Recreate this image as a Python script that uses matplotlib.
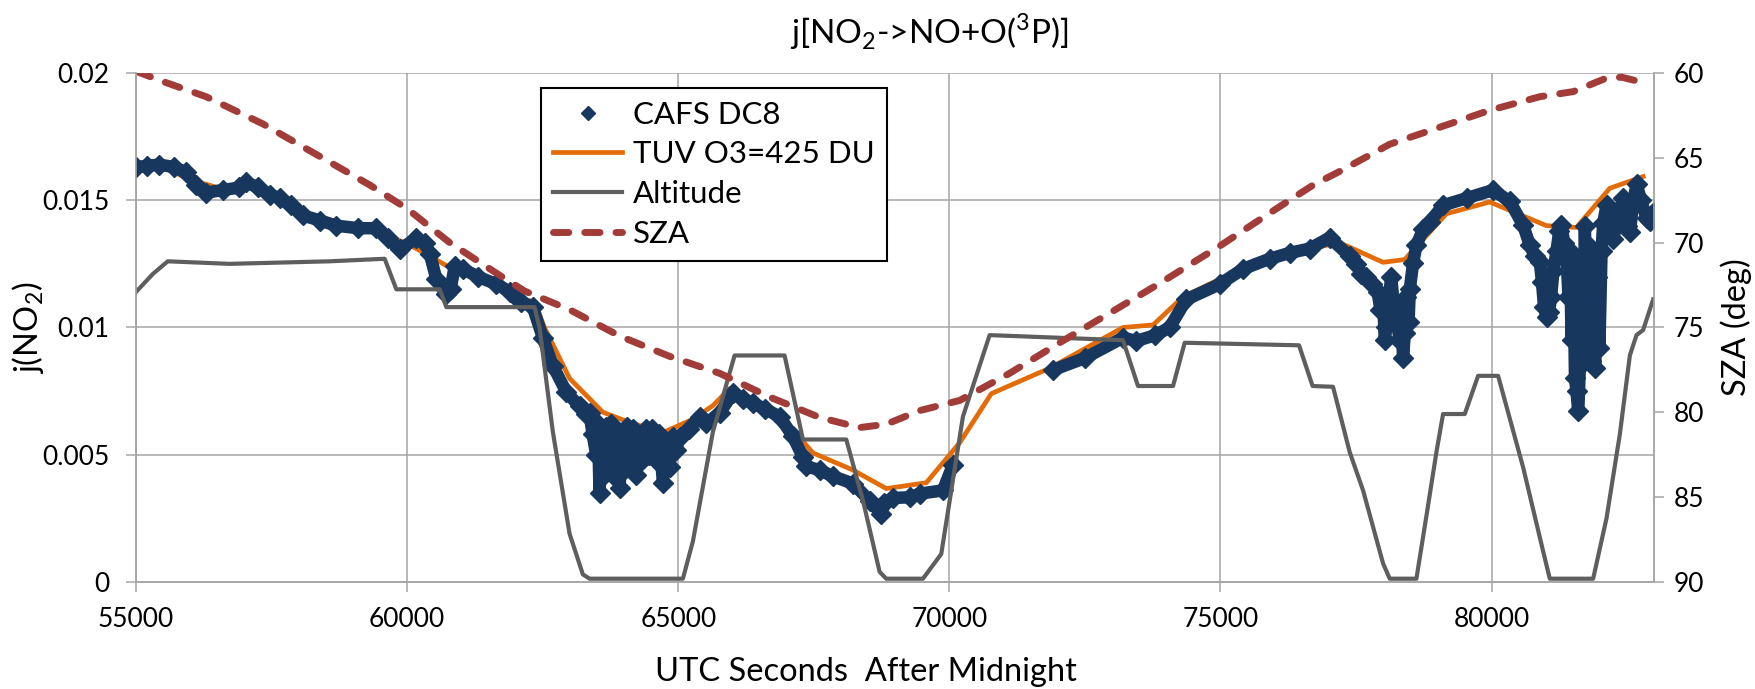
import numpy as np
import matplotlib
matplotlib.use('Agg')
import matplotlib.pyplot as plt
from matplotlib.lines import Line2D

plt.rcParams['font.family'] = ['Lato', 'DejaVu Sans']

# CAFS DC8 j(NO2) (1/s); nan = data gap
cafs_t = [55000, 55200, 55430, 55700, 55923, 56100, 56292, 56600, 56907, 57030,
          57250, 57461, 57646, 57850, 58077, 58400, 58692, 59100, 59431, 59650,
          59862, 60170, 60330, 60416, 60539, 60723, 60800, 60877, 61031, 61300,
          61646, 61900, 62100, 62318, 62502, 62687, 62933,
          63179, 63300, 63364, 63420, 63487, 63520, 63548, 63590, 63630, 63671,
          63720, 63760, 63794, 63850, 63917, 63960, 64000, 64050, 64102, 64163,
          64220, 64286, 64340, 64409, 64460, 64520, 64594, 64650, 64717, 64780,
          64840, 64900, 64960, 65024, 65200, 65393, 65516,
          65762, 66008, 66200, 66377, 66600, 66869, 67115, 67300, 67361, 67607,
          67853, 68222, 68530, 68745, 68800, 68960, 69267, 69452, 69882, 70066,
          70500,
          71912, 72500, 73203, 73449, 73800, 74064, 74372, 74987, 75417, 75909,
          76278, 76647, 77016, 77385, 77500, 77600, 77692, 77800, 77900, 77950,
          78000, 78031, 78060, 78100, 78150, 78200, 78247, 78300, 78340, 78370,
          78400, 78430, 78470, 78493, 78553, 78616, 78738, 78862, 79108, 79539,
          80030, 80338, 80584, 80707, 80800, 80892, 80930, 80970, 81015, 81060,
          81100, 81140, 81199, 81250, 81291, 81340, 81384, 81420, 81450, 81476,
          81510, 81540, 81568, 81600, 81630, 81660, 81700, 81722, 81760, 81800,
          81840, 81876, 81910, 81950, 81990, 82030, 82060, 82122, 82180, 82246,
          82330, 82429, 82500, 82552, 82620, 82675, 82760, 82860, 82930, 83000]
cafs_j = [0.0163, 0.01635, 0.0164, 0.0163, 0.0161, 0.0156, 0.0153, 0.0154, 0.0155, 0.0157,
          0.0155, 0.0152, 0.0151, 0.0148, 0.0144, 0.0142, 0.0140, 0.0139, 0.0139, 0.0135,
          0.01307, 0.0135, 0.0133, 0.0129, 0.0119, 0.0113, 0.0115, 0.0124, 0.0123, 0.0120,
          0.0117, 0.0114, 0.0110, 0.0108, 0.0096, 0.0085, 0.00747,
          0.0069, 0.0066, 0.00663, 0.0058, 0.0050, 0.0062, 0.0035, 0.0060, 0.0042, 0.0061,
          0.0050, 0.0062, 0.0042, 0.0058, 0.0037, 0.0055, 0.0044, 0.0061, 0.0047, 0.0060,
          0.0042, 0.0056, 0.0048, 0.0060, 0.0050, 0.0060, 0.0048, 0.0058, 0.0039, 0.0055,
          0.0045, 0.0057, 0.0052, 0.0057, 0.0060, 0.0065, 0.00624,
          0.00663, 0.00742, 0.0072, 0.00702, 0.0068, 0.0065, 0.00572, 0.0049, 0.00454, 0.0044,
          0.00415, 0.00387, 0.0032, 0.00267, 0.0031, 0.0033, 0.00333, 0.00347, 0.0036, 0.0046,
          np.nan,
          0.00833, 0.0088, 0.0096, 0.00947, 0.0097, 0.0100, 0.0111, 0.0117, 0.0123, 0.0127,
          0.01293, 0.0131, 0.01353, 0.0128, 0.0125, 0.0121, 0.0120, 0.0117, 0.0114, 0.0107,
          0.0112, 0.0095, 0.0100, 0.0110, 0.0120, 0.0108, 0.0106, 0.0095, 0.0102, 0.0088,
          0.0098, 0.0112, 0.0102, 0.0115, 0.01253, 0.01323, 0.01387, 0.01415, 0.0148, 0.01508,
          0.0154, 0.01495, 0.01402, 0.01323, 0.0128, 0.01256, 0.0118, 0.0108, 0.0104, 0.0106,
          0.0112, 0.0122, 0.0130, 0.0138, 0.01402, 0.0133, 0.0128, 0.0112, 0.0130, 0.0095,
          0.0125, 0.0080, 0.0075, 0.0067, 0.0085, 0.0128, 0.0090, 0.0140, 0.0095, 0.0132,
          0.0087, 0.0125, 0.0084, 0.0120, 0.0092, 0.0130, 0.0141, 0.0148, 0.0140, 0.01349,
          0.0143, 0.01508, 0.0140, 0.01376, 0.0150, 0.01562, 0.0150, 0.01429, 0.0142, 0.01455]

# TUV model, O3 = 425 DU
tuv_t = [55000, 55500, 56000, 56500, 57000, 57500, 58000, 58500, 59000, 59500,
         60000, 60500, 61000, 61500, 62000, 62350, 62533, 62995, 63610, 64102,
         64717, 65270, 65639, 65947, 66377, 67115, 67484, 68222, 68837, 69575,
         70190, 70774, 71850, 73203, 73757, 74310, 74987, 75500, 76000, 76650,
         77200, 78000, 78400, 79169, 79968, 81014, 81567, 82182, 82797]
tuv_j = [0.0164, 0.0163, 0.0158, 0.0155, 0.0156, 0.0152, 0.0146, 0.0141, 0.0139, 0.0137,
         0.0133, 0.0127, 0.0121, 0.0118, 0.0112, 0.0110, 0.0100, 0.0080, 0.00667, 0.00627,
         0.00587, 0.0064, 0.00693, 0.0076, 0.00702, 0.00598, 0.00507, 0.0044, 0.00367, 0.0039,
         0.00547, 0.0074, 0.0084, 0.0100, 0.0101, 0.0112, 0.0119, 0.0124, 0.0128, 0.0131,
         0.01333, 0.01256, 0.01267, 0.01447, 0.01493, 0.0140, 0.01393, 0.01547, 0.01593]

# aircraft altitude (km)
alt_t = [55000, 55308, 55584, 56723, 58569, 59585, 59800, 60600, 60723, 62349,
         62441, 62687, 62995, 63240, 63364, 65086, 65270, 65639, 66039, 66961,
         67300, 68099, 68407, 68714, 68837, 69513, 69851, 70251, 70743, 73203,
         73480, 74126, 74341, 76450, 76700, 77077, 77385, 77631, 78000, 78123,
         78615, 78800, 78984, 79107, 79507, 79753, 80122, 80584, 80953, 81075,
         81875, 82121, 82367, 82552, 82674, 82797, 82981]
alt_km = [11.4, 12.1, 12.6, 12.5, 12.6, 12.7, 11.5, 11.5, 10.8, 10.8,
          10.0, 5.9, 1.9, 0.3, 0.13, 0.13, 1.6, 5.9, 8.9, 8.9,
          5.6, 5.6, 3.2, 0.4, 0.13, 0.13, 1.1, 6.5, 9.7, 9.5,
          7.7, 7.7, 9.4, 9.3, 7.7, 7.67, 5.1, 3.6, 0.73, 0.13,
          0.13, 2.6, 5.1, 6.6, 6.6, 8.1, 8.1, 4.5, 1.2, 0.13,
          0.13, 2.5, 5.8, 8.9, 9.7, 9.9, 11.1]

# solar zenith angle (deg)
sza_t = [55000, 55492, 56292, 57338, 58323, 59308, 60000, 60785, 61646, 62164,
         62995, 63917, 64840, 65762, 66685, 67607, 68345, 68837, 69452, 70190,
         71112, 72035, 72957, 73880, 74987, 76032, 76713, 77200, 78123, 79045,
         79968, 80891, 81506, 82121, 82400, 82797]
sza_deg = [59.9, 60.5, 61.4, 63.0, 64.8, 66.6, 68.0, 70.0, 71.8, 72.85,
           73.95, 75.5, 76.7, 77.7, 79.1, 80.3, 80.9, 80.7, 79.9, 79.3,
           77.7, 75.9, 74.15, 72.4, 70.2, 68.0, 66.6, 65.8, 64.2, 63.2,
           62.2, 61.4, 61.1, 60.3, 60.25, 60.56]

x_ticks = [55000, 60000, 65000, 70000, 75000, 80000]
x_labels = ['55000', '60000', '65000', '70000', '75000', '80000']
j_ticks = [0, 0.005, 0.01, 0.015, 0.02]
j_labels = ['0', '0.005', '0.01', '0.015', '0.02']
sza_ticks = [60, 65, 70, 75, 80, 85, 90]
sza_labels = ['60', '65', '70', '75', '80', '85', '90']

navy = '#17375E'
orange = '#E36C09'
grey = '#5E5E5E'
red = '#A13C38'
gridc = '#A6A6A6'

fig = plt.figure(figsize=(17.56, 6.89), dpi=100)
ax = fig.add_axes([0.0775, 0.1553, 0.8645, 0.7388])

ax.plot(tuv_t, tuv_j, color=orange, lw=3.4, zorder=2)
ax.plot(cafs_t, cafs_j, color=navy, lw=9, marker='D', ms=10,
        solid_joinstyle='round', solid_capstyle='round', zorder=3)

ax.set_xlim(55000, 83000)
ax.set_ylim(0, 0.02)
ax.set_xticks(x_ticks, x_labels)
ax.set_yticks(j_ticks, j_labels)
ax.grid(True, color=gridc, lw=1.1)
ax.set_axisbelow(True)
ax.tick_params(axis='x', length=7, width=1.1, color=gridc, labelsize=19, pad=11)
ax.tick_params(axis='y', length=7, width=1.1, color=gridc, labelsize=19, pad=12)
for s in ['left', 'bottom', 'right']:
    ax.spines[s].set_color(gridc)
    ax.spines[s].set_linewidth(1.1)
ax.spines['top'].set_visible(False)

# altitude on its own hidden scale
ax_alt = ax.twinx()
ax_alt.plot(alt_t, alt_km, color=grey, lw=3.0)
ax_alt.set_ylim(0, 20)
ax_alt.axis('off')

# SZA on the right axis, inverted
ax2 = ax.twinx()
ax2.plot(sza_t, sza_deg, color=red, lw=5, dashes=(2.2, 2.3), dash_capstyle='round')
ax2.set_ylim(90, 60)
ax2.set_xlim(55000, 83000)
ax2.set_yticks(sza_ticks, sza_labels)
ax2.tick_params(axis='y', length=7, width=1.1, color=gridc, labelsize=19, pad=7)
for s in ['left', 'bottom', 'right']:
    ax2.spines[s].set_color(gridc)
    ax2.spines[s].set_linewidth(1.1)
ax2.spines['top'].set_visible(False)

fig.text(0.529, 0.954, r'j[NO$_\mathregular{2}$->NO+O($^\mathregular{3}$P)]',
         ha='center', va='center', fontsize=24)
fig.text(0.493, 0.012, 'UTC Seconds  After Midnight', ha='center', va='baseline', fontsize=23.5)
fig.text(0.016, 0.525, r'j(NO$_\mathregular{2}$)', rotation=90, ha='center', va='center',
         fontsize=23.5)
fig.text(0.989, 0.525, 'SZA (deg)', rotation=90, ha='center', va='center', fontsize=23.5)

handles = [Line2D([], [], color=navy, marker='D', ls='none', ms=7),
           Line2D([], [], color=orange, lw=3.4),
           Line2D([], [], color=grey, lw=3.0),
           Line2D([], [], color=red, lw=5, dashes=(2.2, 2.3), dash_capstyle='round')]
labels = ['CAFS DC8', 'TUV O3=425 DU', 'Altitude', 'SZA']
leg = fig.legend(handles, labels, loc='upper left', bbox_to_anchor=(541 / 1756, 1 - 88 / 689),
                 fontsize=22.5, frameon=True, fancybox=False, framealpha=1,
                 edgecolor='black', borderpad=0.4, labelspacing=0.38,
                 handlelength=2.2, handletextpad=0.35, borderaxespad=0)
leg.get_frame().set_linewidth(1.5)

fig.savefig('out.png', dpi=100)
